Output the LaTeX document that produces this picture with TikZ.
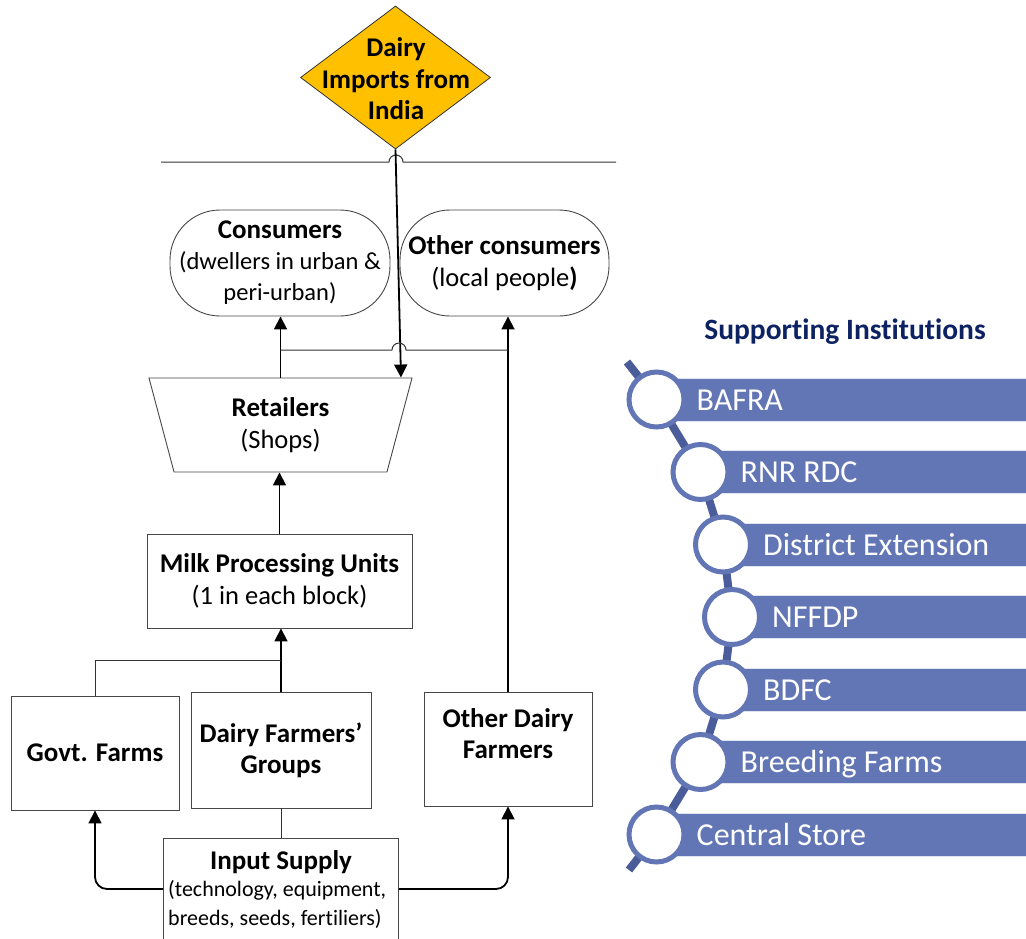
\documentclass[tikz,border=0pt]{standalone}
\usepackage{fontspec}
\setmainfont{Carlito}[Ligatures=NoCommon]
\usetikzlibrary{shapes.geometric,arrows.meta}
\definecolor{importfill}{HTML}{FFC000}
\definecolor{barblue}{HTML}{6276B5}
\definecolor{spineblue}{HTML}{4A5C99}
\definecolor{titlenavy}{HTML}{0C2262}

% text sizes used in the flow chart
\newcommand{\bigbf}{\fontsize{27}{31}\selectfont\bfseries}
\newcommand{\plain}{\fontsize{26.5}{31.5}\selectfont}
\newcommand{\plainsmall}{\fontsize{24.5}{31}\selectfont}

\tikzset{
  box/.style={draw=black!72, line width=0.9pt, fill=white, inner sep=0pt, align=center, font=\plain},
  pill/.style={box, rounded corners=50pt},
  arr/.style={line width=1.8pt, -{Triangle[width=13pt,length=13pt]}},
  link/.style={line width=1pt, draw=black!80},
  arrcorner/.style={arr, rounded corners=12pt},
  barbox/.style={fill=barblue, draw=white!80!barblue, line width=0.6pt},
  dot/.style={circle, fill=white, draw=barblue, line width=5pt, minimum size=55pt, inner sep=0pt},
  bartext/.style={text=white, font=\fontsize{32}{36}\selectfont, anchor=base west, inner sep=0pt},
}

\begin{document}
\begin{tikzpicture}[x=1pt,y=-1pt]
\useasboundingbox (0,0) rectangle (1026,938);

% ---------- imports ----------
\node[diamond, draw=black!80, line width=0.8pt, fill=importfill, minimum width=190pt, minimum height=143pt, inner sep=0pt] (imp) at (395.5,77.5) {};
\node[align=center, font=\fontsize{27}{31.5}\selectfont\bfseries] (imptext) at (396,79) {Dairy\\Imports from\\India};

% border line with a hop over the import flow
\coordinate (bl) at (161,162);
\coordinate (br) at (616,162);
\draw[link] (bl) -- (389,162) arc[start angle=180, end angle=0, radius=7pt] -- (br);

% ---------- consumers ----------
\node[pill, minimum width=220pt, minimum height=106pt, font=\plainsmall] (cons) at (280,263)
  {{\bigbf Consumers}\\(dwellers in urban \&\\peri-urban)};
\node[pill, minimum width=209pt, minimum height=106pt] (ocons) at (504.5,263)
  {{\bigbf Other consumers}\\(local people\textbf{)}};

% ---------- retailers ----------
\node[trapezium, shape border rotate=180, trapezium stretches body, trapezium angle=65.4,
      draw=black!72, line width=0.9pt, fill=white, minimum width=263pt, minimum height=94pt,
      inner sep=0pt, align=center, font=\plain]
  (ret) at (280.5,425) {{\bigbf Retailers}\\(Shops)};

% ---------- processing ----------
\node[box, minimum width=265pt, minimum height=94pt] (mpu) at (279.5,581)
  {{\bigbf Milk Processing Units}\\(1 in each block)};

% ---------- producers ----------
\node[box, minimum width=168pt, minimum height=114pt, font=\bigbf] (govt) at (95,753) {Govt. Farms};
\node[box, minimum width=180pt, minimum height=116pt, font=\bigbf] (dfg) at (281,750) {Dairy Farmers’\\Groups};
\node[box, minimum width=168pt, minimum height=114pt] (odf) at (508,749) {};
\node[align=center, font=\bigbf] (odftext) at (508,734) {Other Dairy\\Farmers};

% ---------- input supply ----------
\node[box, minimum width=235pt, minimum height=130pt, anchor=north] (inp) at (281,838) {};
\node[font=\bigbf, inner sep=0pt] (inptitle) at (281,862) {Input Supply};
\node[font=\fontsize{22}{29}\selectfont, align=left, anchor=north west, inner sep=0pt] (inpbody) at (168,880)
  {(technology, equipment,\\breeds, seeds, fertiliers)};

% ---------- flows ----------
\draw[arr] (imp.south) -- ([xshift=120.5pt]ret.north);
\draw[arr] (ret.north) -- (ret.north |- cons.south);
\draw[arr] (odf.north) -- (odf.north |- ocons.south);
\coordinate (j1) at (280.5,350);
\coordinate (j2) at (508,350);
\draw[link] (j1) -- (392,350) arc[start angle=180, end angle=0, radius=7pt] -- (j2);
\draw[arr] (mpu.north) -- (mpu.north |- ret.south);
\draw[arr] (dfg.north) -- (dfg.north |- mpu.south);
\coordinate (gj) at (281,660);
\draw[link] (govt.north) |- (gj);
\draw[link] (dfg.south) -- (inp.north);
\draw[arrcorner] (inp.west |- 0,889) -| (govt.south);
\draw[arrcorner] (inp.east |- 0,889) -| (odf.south);

% ---------- supporting institutions ----------
\node[font=\fontsize{29.5}{34}\selectfont\bfseries, text=titlenavy] (sititle) at (845,332) {Supporting Institutions};

\coordinate (s0) at (627,362);
\coordinate (s8) at (629,870);
\foreach \i/\x/\y in {1/656.5/399.5, 2/700.5/472, 3/723/544.5, 4/732/617, 5/723/689.5, 6/700.5/762, 7/656.5/834.5}
  \coordinate (p\i) at (\x,\y);
\draw[spineblue, line width=8pt] (s0) -- (p1) -- (p2) -- (p3) -- (p4) -- (p5) -- (p6) -- (p7) -- (s8);

\foreach \i/\x/\y/\lbl in {1/656.5/399.5/BAFRA, 2/700.5/472/RNR RDC, 3/723/544.5/District Extension,
                           4/732/617/NFFDP, 5/723/689.5/BDFC, 6/700.5/762/Breeding Farms, 7/656.5/834.5/Central Store}{
  \draw[barbox] (\x,\y-21.5) rectangle (1032,\y+21.5);
  \node[dot] (c\i) at (\x,\y) {};
  \node[bartext] (t\i) at (\x+40,\y+10.5) {\lbl};
}
\end{tikzpicture}
\end{document}
